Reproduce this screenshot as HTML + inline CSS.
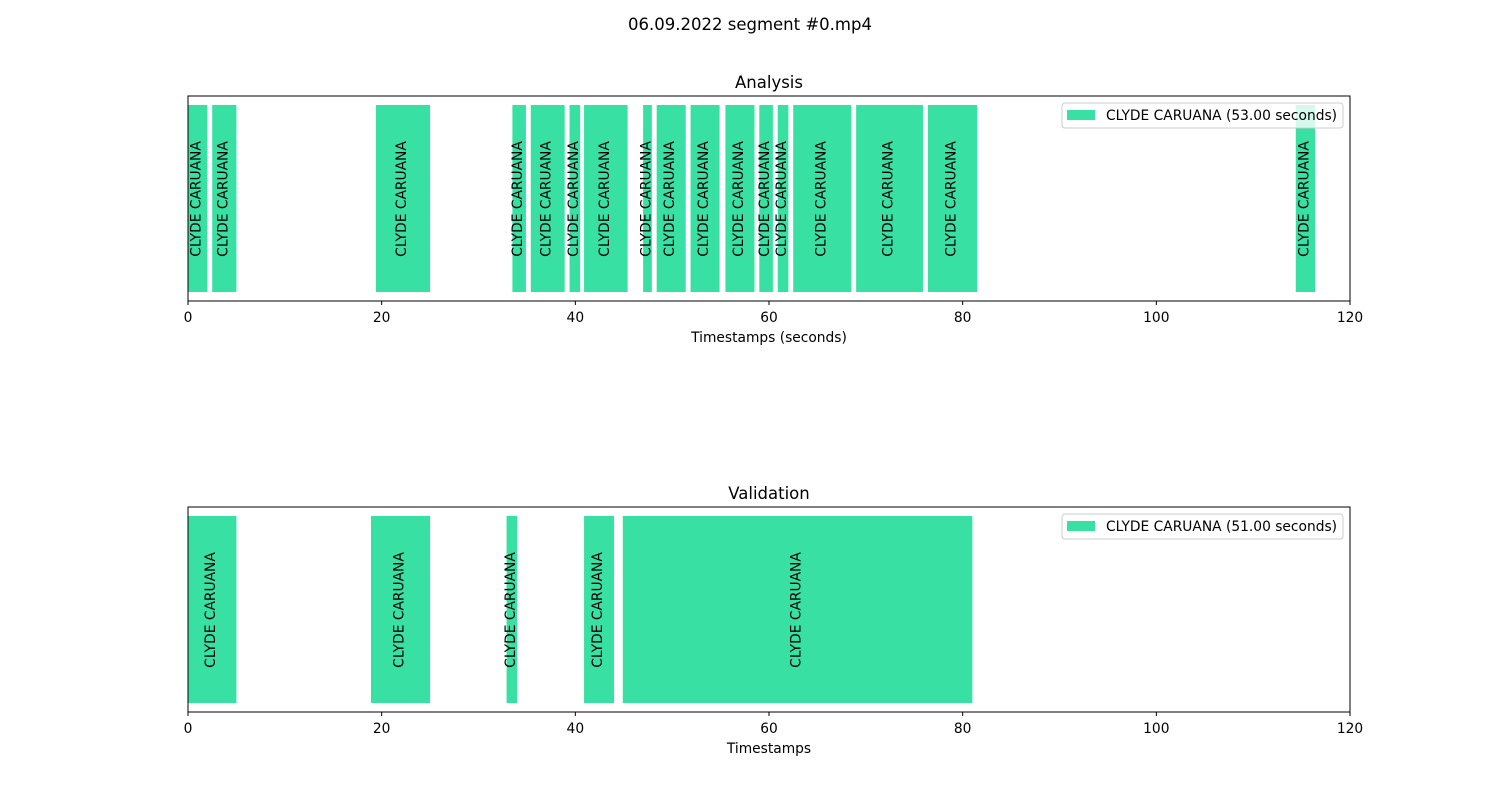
<!DOCTYPE html>
<html><head><meta charset="utf-8"><style>
body{margin:0;background:#fff;width:1500px;height:800px;overflow:hidden}
svg{font-family:"DejaVu Sans","Liberation Sans",sans-serif}
</style></head><body>
<svg id="chart" width="1500" height="800">
<text x="750" y="30" text-anchor="middle" font-size="16.5">06.09.2022 segment #0.mp4</text>
</svg>
<script>
const xTicks=[0,20,40,60,80,100,120];
const analysisStarts=[0,2.5,19.4,33.5,35.4,39.4,40.9,47.0,48.4,51.9,55.5,59.0,60.9,62.5,69.0,76.4,114.4];
const analysisEnds=[2.0,5.0,25.0,34.9,38.9,40.5,45.4,47.9,51.4,54.9,58.5,60.4,62.0,68.5,75.9,81.5,116.4];
const validationStarts=[0,18.9,32.9,40.9,44.9];
const validationEnds=[5.0,25.0,34.0,44.0,81.0];
const label="CLYDE CARUANA";
const legendA="CLYDE CARUANA (53.00 seconds)";
const legendV="CLYDE CARUANA (51.00 seconds)";
const svg=document.getElementById('chart');
const NS="http://www.w3.org/2000/svg";
const X0=188,X1=1350,XMAX=120;
const xs=v=>X0+(v/XMAX)*(X1-X0);
function mk(tag,attrs,parent){const e=document.createElementNS(NS,tag);for(const k in attrs)e.setAttribute(k,attrs[k]);(parent||svg).appendChild(e);return e;}
function panel(top,title,xlabel,starts,ends,legendText,key){
  const g=mk('g',{});
  
  
  const bottom=top+205;
  const t=mk('text',{x:769,y:top-8,'text-anchor':'middle','font-size':16.5},g);t.textContent=title;
  
  
  for(let i=0;i<starts.length;i++){
    const x1=xs(starts[i]),x2=xs(ends[i]);
    const r=mk('rect',{x:x1,y:top+9,width:x2-x1,height:187,fill:'#38e0a4'},g);
    
    
    const cx=(x1+x2)/2-1,cy=top+103;
    const lt=mk('text',{x:cx,y:cy,'font-size':13.8,'text-anchor':'middle','dominant-baseline':'central',transform:`rotate(-90 ${cx} ${cy})`},g);
    lt.textContent=label;
    
    
  }
  const f=mk('rect',{x:X0,y:top,width:X1-X0,height:205,fill:'none',stroke:'#000','stroke-width':1},g);
  
  
  for(const v of xTicks){
    const x=xs(v);
    const tl=mk('line',{x1:x,x2:x,y1:bottom,y2:bottom+4,stroke:'#000'},g);
    
    
    const tt=mk('text',{x:x,y:bottom+21,'text-anchor':'middle','font-size':13.8},g);tt.textContent=v;
    
    
  }
  const xl=mk('text',{x:769,y:bottom+41,'text-anchor':'middle','font-size':13.8},g);xl.textContent=xlabel;
  
  
  const lg=mk('g',{},g);
  
  
  mk('rect',{x:1062,y:top+7,width:281,height:25,rx:3,fill:'#fff','fill-opacity':0.8,stroke:'#ccc'},lg);
  mk('rect',{x:1067,y:top+14,width:28,height:10,fill:'#38e0a4'},lg);
  const ltx=mk('text',{x:1106,y:top+24,'font-size':13.8},lg);ltx.textContent=legendText;
}
panel(96,'Analysis','Timestamps (seconds)',analysisStarts,analysisEnds,legendA,'analysis');
panel(507,'Validation','Timestamps',validationStarts,validationEnds,legendV,'validation');
</script>
</body></html>
